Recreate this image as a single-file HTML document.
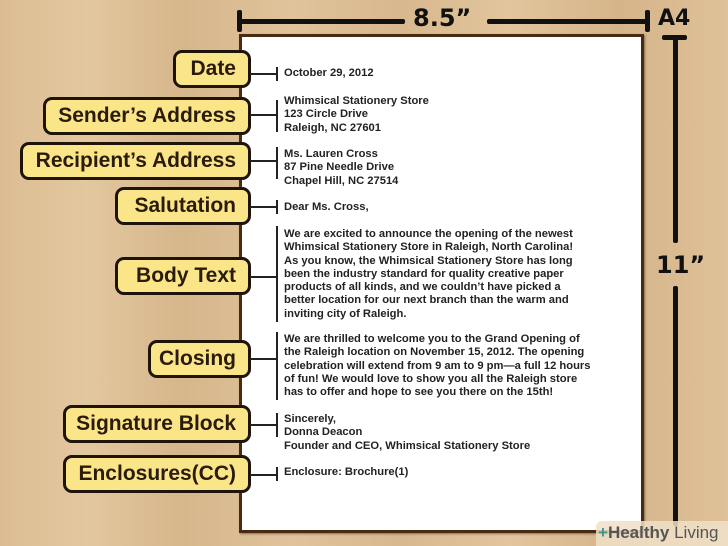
<!DOCTYPE html>
<html><head><meta charset="utf-8"><style>
*{margin:0;padding:0;box-sizing:border-box}
body{width:728px;height:546px;overflow:hidden;position:relative;
background:linear-gradient(90deg,#dcbd93 0%,#e3c79f 12%,#d6b68b 25%,#e0c39b 40%,#d8b88e 55%,#e2c59d 70%,#d5b489 85%,#dfc199 100%);
font-family:"Liberation Sans",Arial,sans-serif}
.paper{position:absolute;left:239px;top:34px;width:405px;height:499px;background:#fff;border:3px solid #4a2a12;box-shadow:1px 1px 2px rgba(0,0,0,.4)}
.bar{position:absolute;background:#111;border-radius:2px}
.lbl{position:absolute;height:38px;background:#fbe589;border:3px solid #1e140a;border-radius:9px;text-align:right;
font-weight:bold;font-size:21px;color:#2a1b0b;line-height:32px;padding:0 12px 0 0;white-space:nowrap;font-family:"Liberation Sans",sans-serif}
.t{position:absolute;left:284px;font-size:11.2px;font-weight:bold;color:#222;line-height:13.3px;white-space:nowrap}
.h{position:absolute;left:250px;width:27px;height:2px;background:#222}
.v{position:absolute;left:276px;width:2px;background:#222}
.big{position:absolute;font-weight:bold;color:#111;font-family:"DejaVu Sans","Liberation Sans",sans-serif}
</style></head><body>
<div class="paper"></div>
<div class="bar" style="left:237px;top:10px;width:5px;height:22px"></div>
<div class="bar" style="left:237px;top:19px;width:168px;height:5px"></div>
<div class="bar" style="left:487px;top:19px;width:162px;height:5px"></div>
<div class="bar" style="left:645px;top:10px;width:5px;height:22px"></div>
<div class="big" style="left:413px;top:4px;font-size:24px">8.5”</div>
<div class="big" style="left:658px;top:6px;font-size:22px">A4</div>
<div class="bar" style="left:662px;top:35px;width:25px;height:5px"></div>
<div class="bar" style="left:673px;top:35px;width:5px;height:208px"></div>
<div class="bar" style="left:673px;top:286px;width:5px;height:240px"></div>
<div class="big" style="left:656px;top:251px;font-size:24px">11”</div>

<div class="lbl" style="top:50px;left:173px;width:78px">Date</div>
<div class="lbl" style="top:97px;left:43px;width:208px">Sender’s Address</div>
<div class="lbl" style="top:142px;left:20px;width:231px">Recipient’s Address</div>
<div class="lbl" style="top:187px;left:115px;width:136px">Salutation</div>
<div class="lbl" style="top:257px;left:115px;width:136px">Body Text</div>
<div class="lbl" style="top:340px;left:148px;width:103px">Closing</div>
<div class="lbl" style="top:405px;left:63px;width:188px">Signature Block</div>
<div class="lbl" style="top:455px;left:63px;width:188px">Enclosures(CC)</div>

<div class="h" style="top:73px"></div><div class="v" style="top:67px;height:14px"></div>
<div class="h" style="top:114px"></div><div class="v" style="top:100px;height:32px"></div>
<div class="h" style="top:160px"></div><div class="v" style="top:147px;height:32px"></div>
<div class="h" style="top:206px"></div><div class="v" style="top:200px;height:14px"></div>
<div class="h" style="top:276px"></div><div class="v" style="top:226px;height:96px"></div>
<div class="h" style="top:358px"></div><div class="v" style="top:332px;height:68px"></div>
<div class="h" style="top:424px"></div><div class="v" style="top:413px;height:24px"></div>
<div class="h" style="top:474px"></div><div class="v" style="top:467px;height:14px"></div>

<div class="t" style="top:67px">October 29, 2012</div>
<div class="t" style="top:95px">Whimsical Stationery Store<br>123 Circle Drive<br>Raleigh, NC 27601</div>
<div class="t" style="top:148px">Ms. Lauren Cross<br>87 Pine Needle Drive<br>Chapel Hill, NC 27514</div>
<div class="t" style="top:201px">Dear Ms. Cross,</div>
<div class="t" style="top:228px">We are excited to announce the opening of the newest<br>Whimsical Stationery Store in Raleigh, North Carolina!<br>As you know, the Whimsical Stationery Store has long<br>been the industry standard for quality creative paper<br>products of all kinds, and we couldn’t have picked a<br>better location for our next branch than the warm and<br>inviting city of Raleigh.</div>
<div class="t" style="top:333px">We are thrilled to welcome you to the Grand Opening of<br>the Raleigh location on November 15, 2012. The opening<br>celebration will extend from 9 am to 9 pm—a full 12 hours<br>of fun! We would love to show you all the Raleigh store<br>has to offer and hope to see you there on the 15th!</div>
<div class="t" style="top:413px">Sincerely,<br>Donna Deacon<br>Founder and CEO, Whimsical Stationery Store</div>
<div class="t" style="top:466px">Enclosure: Brochure(1)</div>

<div style="position:absolute;left:596px;top:521px;width:132px;height:25px;background:rgba(240,225,200,.85);border-radius:6px 0 0 0"></div>
<div style="position:absolute;left:598px;top:523px;font-size:17px;color:#555;white-space:nowrap"><span style="color:#3a9a8a;font-weight:bold">+</span><b>Healthy</b> Living</div>
</body></html>
